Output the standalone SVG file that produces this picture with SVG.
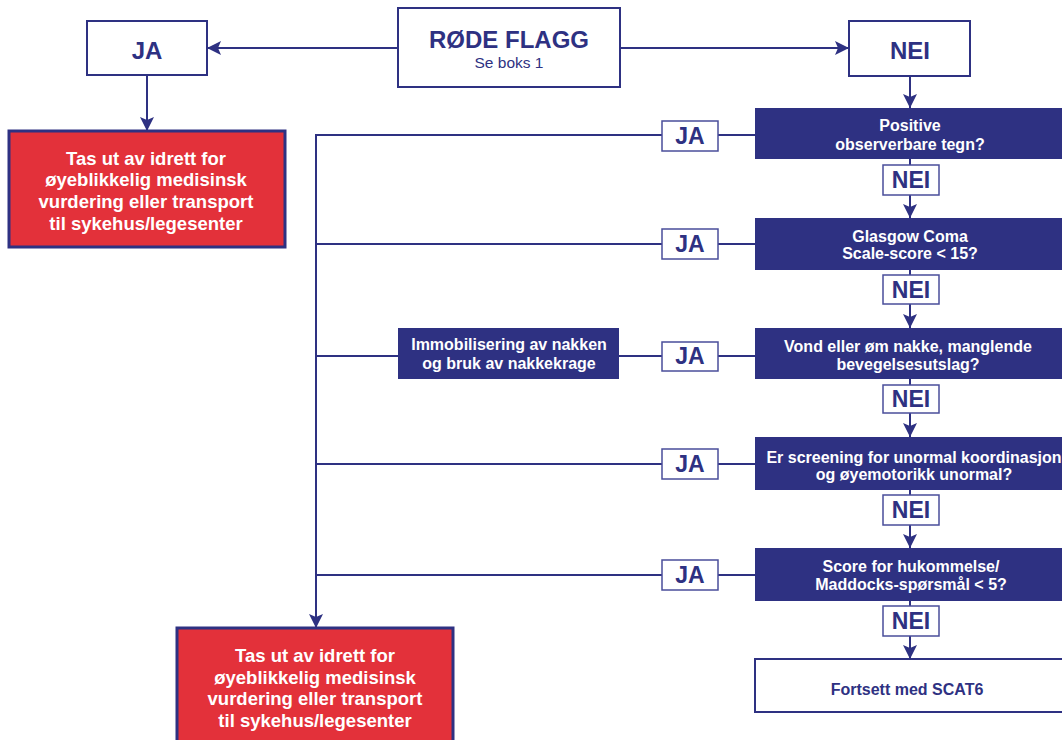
<svg xmlns="http://www.w3.org/2000/svg" width="1062" height="740" viewBox="0 0 1062 740">
<defs>
<marker id="arr" markerUnits="userSpaceOnUse" markerWidth="16" markerHeight="16" refX="14" refY="7" orient="auto">
<path d="M0,0 L14,7 L0,14 L3,7 z" fill="#2e3182"/>
</marker>
<style>
.line{stroke:#2e3182;stroke-width:2;fill:none}
.wbox{fill:#fff;stroke:#2e3182;stroke-width:2}
.lbl{fill:#fff;stroke:#4a4e9a;stroke-width:1.5}
.dbox{fill:#2e3182;stroke:none}
.rbox{fill:#e3313a;stroke:#2e3182;stroke-width:3}
text{font-family:"Liberation Sans",Arial,sans-serif;font-weight:bold;text-anchor:middle}
.big{font-size:24px;fill:#2e3182}
.lab{font-size:23px;fill:#2e3182}
.wt{font-size:16px;fill:#fff}
.rt{font-size:18.5px;fill:#fff}
.bt{font-size:16px;fill:#2e3182}
</style>
</defs>
<rect width="1062" height="740" fill="#fff"/>
<g id="connectors">
<line class="line" x1="398" y1="48" x2="207" y2="48" marker-end="url(#arr)"/>
<line class="line" x1="620" y1="48" x2="849" y2="48" marker-end="url(#arr)"/>
<line class="line" x1="147" y1="75" x2="147" y2="131" marker-end="url(#arr)"/>
<line class="line" x1="910" y1="76" x2="910" y2="108" marker-end="url(#arr)"/>
<line class="line" x1="910" y1="159" x2="910" y2="165"/>
<line class="line" x1="910" y1="195" x2="910" y2="218" marker-end="url(#arr)"/>
<line class="line" x1="910" y1="270" x2="910" y2="275"/>
<line class="line" x1="910" y1="304" x2="910" y2="328" marker-end="url(#arr)"/>
<line class="line" x1="910" y1="379" x2="910" y2="385"/>
<line class="line" x1="910" y1="413" x2="910" y2="437" marker-end="url(#arr)"/>
<line class="line" x1="910" y1="490" x2="910" y2="495"/>
<line class="line" x1="910" y1="525" x2="910" y2="548" marker-end="url(#arr)"/>
<line class="line" x1="910" y1="601" x2="910" y2="606"/>
<line class="line" x1="910" y1="636" x2="910" y2="659" marker-end="url(#arr)"/>
<line class="line" x1="755" y1="135" x2="718" y2="135"/>
<line class="line" x1="662" y1="135" x2="316" y2="135"/>
<line class="line" x1="755" y1="244" x2="718" y2="244"/>
<line class="line" x1="662" y1="244" x2="316" y2="244"/>
<line class="line" x1="755" y1="356" x2="718" y2="356"/>
<line class="line" x1="662" y1="356" x2="316" y2="356"/>
<line class="line" x1="755" y1="464" x2="718" y2="464"/>
<line class="line" x1="662" y1="464" x2="316" y2="464"/>
<line class="line" x1="755" y1="575" x2="718" y2="575"/>
<line class="line" x1="662" y1="575" x2="316" y2="575"/>
<line class="line" x1="316" y1="134" x2="316" y2="628" marker-end="url(#arr)"/>
</g>
<g id="rode-flagg">
<rect class="wbox" x="398" y="8" width="222" height="79"/>
<text class="big" x="509" y="48">RØDE FLAGG</text>
<text x="509" y="68" style="font-size:15.5px;font-weight:normal;fill:#2e3182">Se boks 1</text>
</g>
<g id="ja-top">
<rect class="wbox" x="87" y="21" width="120" height="54"/>
<text class="big" x="147" y="59">JA</text>
</g>
<g id="nei-top">
<rect class="wbox" x="849" y="21" width="121" height="55"/>
<text class="big" x="910" y="59">NEI</text>
</g>
<g id="red-1">
<rect class="rbox" x="9" y="131" width="276" height="116"/>
<text class="rt" x="146" y="165">Tas ut av idrett for</text>
<text class="rt" x="146" y="186">øyeblikkelig medisinsk</text>
<text class="rt" x="146" y="208">vurdering eller transport</text>
<text class="rt" x="146" y="230">til sykehus/legesenter</text>
</g>
<g id="red-2">
<rect class="rbox" x="177" y="628" width="276" height="120"/>
<text class="rt" x="315" y="662">Tas ut av idrett for</text>
<text class="rt" x="315" y="684">øyeblikkelig medisinsk</text>
<text class="rt" x="315" y="705">vurdering eller transport</text>
<text class="rt" x="315" y="727">til sykehus/legesenter</text>
</g>
<g id="immobilisering">
<rect class="dbox" x="398" y="328" width="221" height="51"/>
<text class="wt" x="509" y="350">Immobilisering av nakken</text>
<text class="wt" x="509" y="369">og bruk av nakkekrage</text>
</g>
<g id="q1">
<rect class="dbox" x="755" y="108" width="320" height="51"/>
<text class="wt" x="910" y="131">Positive</text>
<text class="wt" x="910" y="150">observerbare tegn?</text>
</g>
<g id="q2">
<rect class="dbox" x="755" y="218" width="320" height="52"/>
<text class="wt" x="910" y="242">Glasgow Coma</text>
<text class="wt" x="910" y="259">Scale-score &lt; 15?</text>
</g>
<g id="q3">
<rect class="dbox" x="755" y="328" width="320" height="51"/>
<text class="wt" x="908" y="352">Vond eller øm nakke, manglende</text>
<text class="wt" x="908" y="370">bevegelsesutslag?</text>
</g>
<g id="q4">
<rect class="dbox" x="755" y="437" width="320" height="53"/>
<text class="wt" x="914" y="463">Er screening for unormal koordinasjon</text>
<text class="wt" x="914" y="480">og øyemotorikk unormal?</text>
</g>
<g id="q5">
<rect class="dbox" x="755" y="548" width="320" height="53"/>
<text class="wt" x="911" y="572">Score for hukommelse/</text>
<text class="wt" x="911" y="590">Maddocks-spørsmål &lt; 5?</text>
</g>
<g id="fortsett">
<rect class="wbox" x="755" y="659" width="320" height="53"/>
<text class="bt" x="907" y="695">Fortsett med SCAT6</text>
</g>
<g id="ja-1"><rect class="lbl" x="662" y="121" width="56" height="30"/><text class="lab" x="690" y="144">JA</text></g>
<g id="ja-2"><rect class="lbl" x="662" y="229" width="56" height="30"/><text class="lab" x="690" y="252">JA</text></g>
<g id="ja-3"><rect class="lbl" x="662" y="342" width="56" height="29"/><text class="lab" x="690" y="364">JA</text></g>
<g id="ja-4"><rect class="lbl" x="662" y="449" width="56" height="30"/><text class="lab" x="690" y="472">JA</text></g>
<g id="ja-5"><rect class="lbl" x="662" y="560" width="56" height="30"/><text class="lab" x="690" y="583">JA</text></g>
<g id="nei-1"><rect class="lbl" x="883" y="165" width="56" height="30"/><text class="lab" x="911" y="188">NEI</text></g>
<g id="nei-2"><rect class="lbl" x="883" y="275" width="56" height="29"/><text class="lab" x="911" y="298">NEI</text></g>
<g id="nei-3"><rect class="lbl" x="883" y="385" width="56" height="28"/><text class="lab" x="911" y="407">NEI</text></g>
<g id="nei-4"><rect class="lbl" x="883" y="495" width="56" height="30"/><text class="lab" x="911" y="518">NEI</text></g>
<g id="nei-5"><rect class="lbl" x="883" y="606" width="56" height="30"/><text class="lab" x="911" y="629">NEI</text></g>
</svg>
